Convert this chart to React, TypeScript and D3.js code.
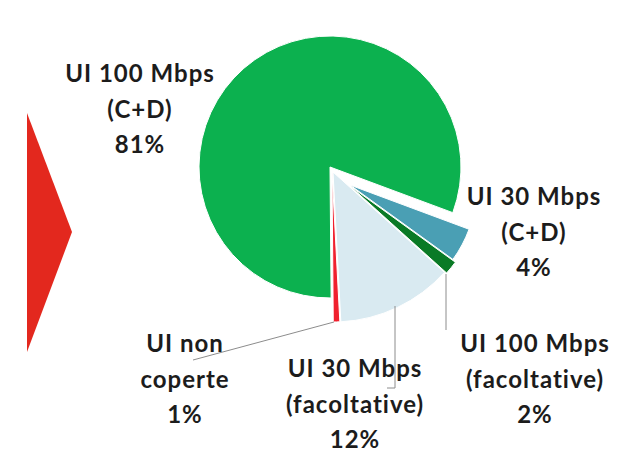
import React from "react";
import * as d3 from "d3";

// ---- data ----
const categories = [
  "UI 30 Mbps (C+D)",
  "UI 100 Mbps (facoltative)",
  "UI 30 Mbps (facoltative)",
  "UI non coperte",
  "UI 100 Mbps (C+D)",
];
const values = [4.3, 1.7, 12.5, 0.7, 80.8];
const labelLines = [
  ["UI 30 Mbps", "(C+D)", "4%"],
  ["UI 100 Mbps", "(facoltative)", "2%"],
  ["UI 30 Mbps", "(facoltative)", "12%"],
  ["UI non", "coperte", "1%"],
  ["UI 100 Mbps", "(C+D)", "81%"],
];

// ---- style / layout ----
const colors = ["#4a9fb4", "#0a7a26", "#d9eaf1", "#f0202e", "#0cb14f"];
const explode = [
  [20, 18],
  [20, 19],
  [3, 5],
  [2, 5],
  [0, 0],
];
const radii = [127, 130, 150, 150, 131];
const labelPos = [
  [534, 205],
  [535, 352],
  [355, 377],
  [185, 352],
  [140, 82],
];
const leaders: number[][][] = [
  [],
  [[446, 274], [446, 330]],
  [[395, 306], [395, 388], [387, 388]],
  [[334, 322], [193, 360]],
  [],
];

const W = 619;
const H = 450;
const cx = 330;
const cy = 167;
const startDeg = 110.4;

export default function App() {
  const pie = d3
    .pie<number>()
    .sort(null)
    .value((d) => d)
    .startAngle((startDeg * Math.PI) / 180)
    .endAngle(((startDeg + 360) * Math.PI) / 180);
  const arcs = pie(values);
  const lineGen = d3.line();
  const tri = d3.line()([
    [27, 113],
    [72, 232],
    [27, 352],
  ]) + "Z";
  return (
    <svg
      width={W}
      height={H}
      style={{ position: "absolute", left: 0, top: 0, background: "#fff" }}
    >
      <rect x={0} y={0} width={W} height={H} fill="#fff" />
      <path d={tri} fill="#e3281e" />
      {arcs.map((a, i) => {
        const arc = d3.arc<d3.PieArcDatum<number>>().innerRadius(0).outerRadius(radii[i]);
        return (
          <path
            key={categories[i]}
            d={arc(a) || ""}
            transform={`translate(${cx + explode[i][0]},${cy + explode[i][1]})`}
            fill={colors[i]}
            stroke="#ffffff"
            strokeWidth={1}
          />
        );
      })}
      {leaders.map((pts, i) =>
        pts.length ? (
          <path
            key={"l" + i}
            d={lineGen(pts as [number, number][]) || ""}
            fill="none"
            stroke="#8c8c8c"
            strokeWidth={1}
          />
        ) : null
      )}
      {labelLines.map((lines, i) => (
        <text
          key={"t" + i}
          x={labelPos[i][0]}
          y={labelPos[i][1]}
          textAnchor="middle"
          fontFamily="Lato, 'Open Sans', sans-serif"
          fontWeight="bold"
          fontSize={24}
          letterSpacing={1}
          fill="#1c1c1c"
        >
          {lines.map((ln, j) => (
            <tspan key={j} x={labelPos[i][0]} y={labelPos[i][1] + j * 35.5}>
              {ln}
            </tspan>
          ))}
        </text>
      ))}
    </svg>
  );
}
